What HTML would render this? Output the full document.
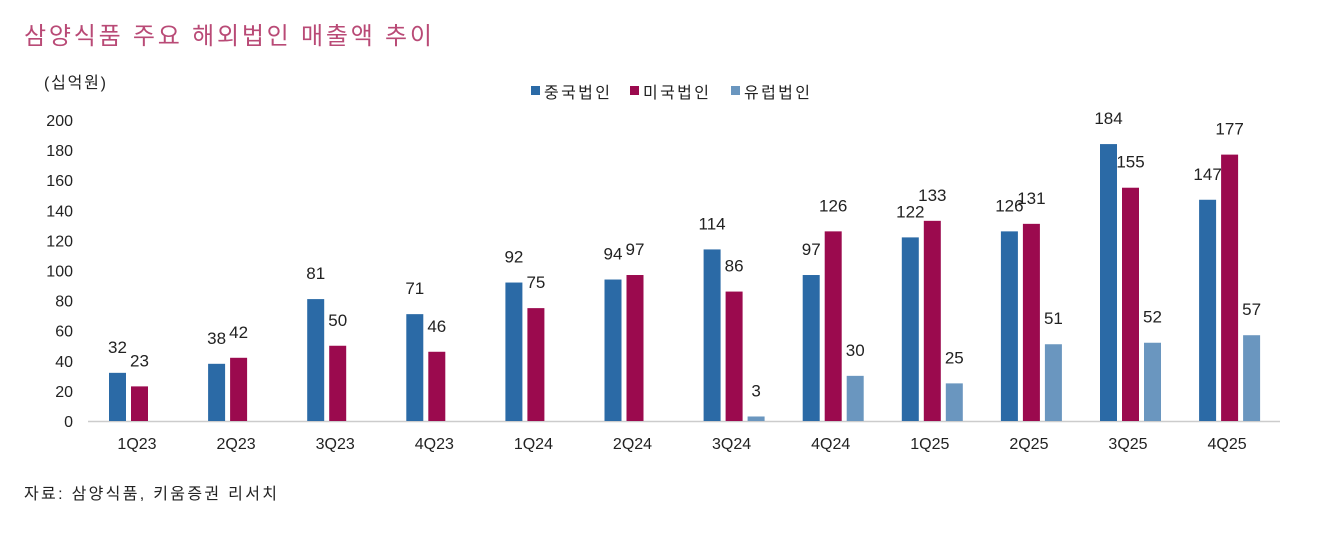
<!DOCTYPE html><html><head><meta charset="utf-8"><style>body{margin:0;background:#fff}</style></head><body>
<svg width="1322" height="552" xmlns="http://www.w3.org/2000/svg" font-family="Liberation Sans, Noto Sans CJK KR, sans-serif">
<text x="24" y="44" font-size="24" fill="#b94a76" textLength="408" lengthAdjust="spacing">삼양식품 주요 해외법인 매출액 추이</text>
<text x="44" y="88" font-size="16" fill="#222" textLength="62">(십억원)</text>
<rect x="531" y="86" width="9" height="9" fill="#2b6aa6"/><text x="544" y="98" font-size="16" fill="#222" textLength="66">중국법인</text>
<rect x="630" y="86" width="9" height="9" fill="#9b0a4e"/><text x="643" y="98" font-size="16" fill="#222" textLength="66">미국법인</text>
<rect x="731" y="86" width="9" height="9" fill="#6a96bf"/><text x="744" y="98" font-size="16" fill="#222" textLength="66">유럽법인</text>
<g font-size="16" fill="#222" text-anchor="end" id="ticks"></g>
<line x1="88" y1="421.5" x2="1280" y2="421.5" stroke="#ccc" stroke-width="1.5"/>
<g id="bars"></g>
<text x="24" y="499" font-size="16" fill="#222" textLength="253" lengthAdjust="spacing">자료: 삼양식품, 키움증권 리서치</text>
</svg>
<script>
var ns="http://www.w3.org/2000/svg";
function el(p,t,a,txt){var e=document.createElementNS(ns,t);for(var k in a)e.setAttribute(k,a[k]);if(txt!=null)e.textContent=txt;p.appendChild(e);}
var tk=document.getElementById('ticks');
for(var v=0;v<=200;v+=20){el(tk,'text',{x:73,y:421-v*1.505+6},v);}
var b=document.getElementById('bars');
var q=['1Q23','2Q23','3Q23','4Q23','1Q24','2Q24','3Q24','4Q24','1Q25','2Q25','3Q25','4Q25'];
var d=[[32,23,null],[38,42,null],[81,50,null],[71,46,null],[92,75,null],[94,97,null],[114,86,3],[97,126,30],[122,133,25],[126,131,51],[184,155,52],[147,177,57]];
var c=['#2b6aa6','#9b0a4e','#6a96bf'];
for(var i=0;i<12;i++){var x0=109+99.1*i;
 el(b,'text',{x:x0+28,y:449,'font-size':16,fill:'#222','text-anchor':'middle'},q[i]);
 for(var j=0;j<3;j++){var v=d[i][j];if(v==null)continue;var x=x0+j*22,h=v*1.505;
  el(b,'rect',{x:x,y:421-h,width:17,height:h,fill:c[j]});
  el(b,'text',{x:x+8.5,y:421-h-20,'font-size':17,fill:'#222','text-anchor':'middle'},v);}
}
</script>
</body></html>
